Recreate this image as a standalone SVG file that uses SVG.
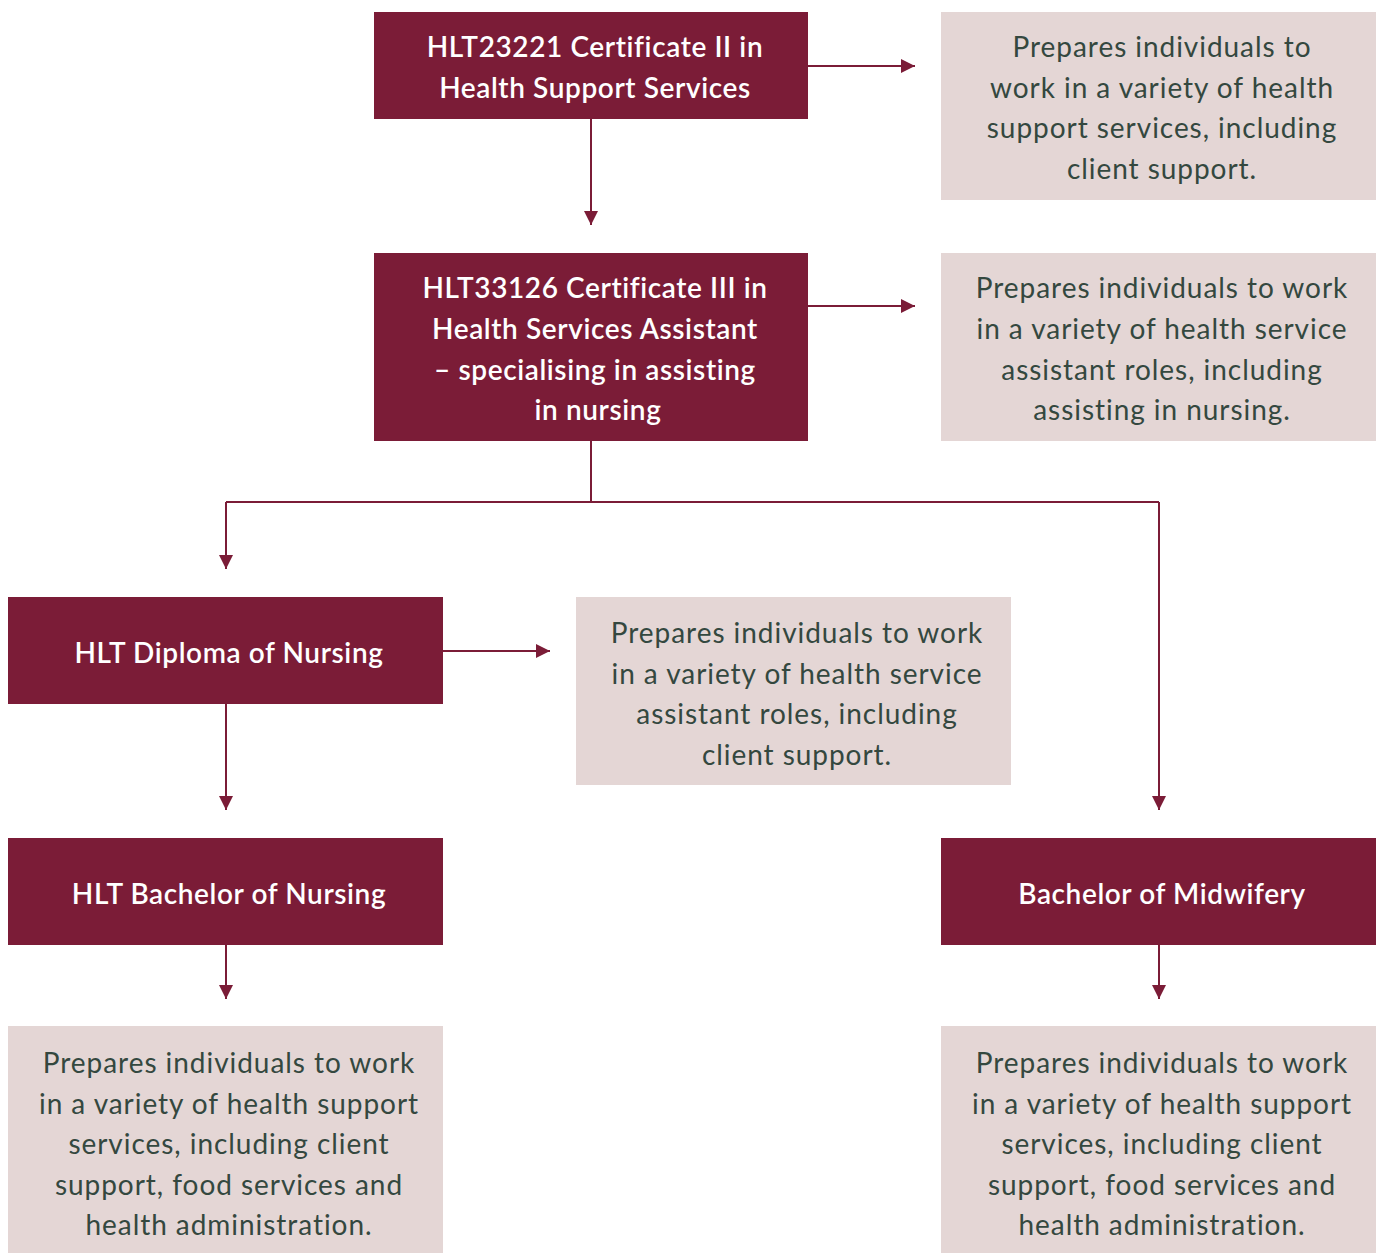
<svg xmlns="http://www.w3.org/2000/svg" width="1382" height="1253" viewBox="0 0 1382 1253">
<defs>
<style>
.dark{fill:#7B1C37;}
.light{fill:#E4D6D5;}
.dt{font-family:Lato,"Open Sans","Liberation Sans",sans-serif;font-size:28px;font-weight:600;fill:#FFFFFF;text-anchor:middle;letter-spacing:0.6px;}
.lt{font-family:Lato,"Open Sans","Liberation Sans",sans-serif;font-size:28px;font-weight:400;fill:#34483F;text-anchor:middle;letter-spacing:0.95px;}
.conn{stroke:#7B1C37;stroke-width:2;fill:none;}
</style>
<marker id="ah" viewBox="0 0 14 14" refX="14" refY="7" markerWidth="14" markerHeight="14" markerUnits="userSpaceOnUse" orient="auto">
<path d="M0,0 L14,7 L0,14 Z" fill="#7B1C37"/>
</marker>
</defs>
<rect width="1382" height="1253" fill="#FFFFFF"/>
<g id="connectors">
<path class="conn" d="M808,66 H915" marker-end="url(#ah)"/>
<path class="conn" d="M591,119 V225" marker-end="url(#ah)"/>
<path class="conn" d="M808,306 H915" marker-end="url(#ah)"/>
<path class="conn" d="M591,441 V502 M226,502 H1159"/>
<path class="conn" d="M226,502 V569" marker-end="url(#ah)"/>
<path class="conn" d="M1159,502 V810" marker-end="url(#ah)"/>
<path class="conn" d="M443,651 H550" marker-end="url(#ah)"/>
<path class="conn" d="M226,704 V810" marker-end="url(#ah)"/>
<path class="conn" d="M226,945 V999" marker-end="url(#ah)"/>
<path class="conn" d="M1159,945 V999" marker-end="url(#ah)"/>
</g>
<g id="cert2">
<rect class="dark" x="374" y="12" width="434" height="107"/>
<text class="dt"><tspan x="595" y="57">HLT23221 Certificate II in</tspan><tspan x="595" y="98">Health Support Services</tspan></text>
</g>
<g id="cert2-desc">
<rect class="light" x="941" y="12" width="435" height="188"/>
<text class="lt"><tspan x="1162" y="57">Prepares individuals to</tspan><tspan x="1162" y="98">work in a variety of health</tspan><tspan x="1162" y="138">support services, including</tspan><tspan x="1162" y="179">client support.</tspan></text>
</g>
<g id="cert3">
<rect class="dark" x="374" y="253" width="434" height="188"/>
<text class="dt"><tspan x="595" y="298">HLT33126 Certificate III in</tspan><tspan x="595" y="339">Health Services Assistant</tspan><tspan x="595" y="380">– specialising in assisting</tspan><tspan x="598" y="420">in nursing</tspan></text>
</g>
<g id="cert3-desc">
<rect class="light" x="941" y="253" width="435" height="188"/>
<text class="lt"><tspan x="1162" y="298">Prepares individuals to work</tspan><tspan x="1162" y="339">in a variety of health service</tspan><tspan x="1162" y="380">assistant roles, including</tspan><tspan x="1162" y="420">assisting in nursing.</tspan></text>
</g>
<g id="diploma">
<rect class="dark" x="8" y="597" width="435" height="107"/>
<text class="dt" x="229" y="663">HLT Diploma of Nursing</text>
</g>
<g id="diploma-desc">
<rect class="light" x="576" y="597" width="435" height="188"/>
<text class="lt"><tspan x="797" y="643">Prepares individuals to work</tspan><tspan x="797" y="684">in a variety of health service</tspan><tspan x="797" y="724">assistant roles, including</tspan><tspan x="797" y="765">client support.</tspan></text>
</g>
<g id="bachelor-nursing">
<rect class="dark" x="8" y="838" width="435" height="107"/>
<text class="dt" x="229" y="904">HLT Bachelor of Nursing</text>
</g>
<g id="bachelor-midwifery">
<rect class="dark" x="941" y="838" width="435" height="107"/>
<text class="dt" x="1162" y="904">Bachelor of Midwifery</text>
</g>
<g id="nursing-desc">
<rect class="light" x="8" y="1026" width="435" height="227"/>
<text class="lt"><tspan x="229" y="1073">Prepares individuals to work</tspan><tspan x="229" y="1114">in a variety of health support</tspan><tspan x="229" y="1154">services, including client</tspan><tspan x="229" y="1195">support, food services and</tspan><tspan x="229" y="1235">health administration.</tspan></text>
</g>
<g id="midwifery-desc">
<rect class="light" x="941" y="1026" width="435" height="227"/>
<text class="lt"><tspan x="1162" y="1073">Prepares individuals to work</tspan><tspan x="1162" y="1114">in a variety of health support</tspan><tspan x="1162" y="1154">services, including client</tspan><tspan x="1162" y="1195">support, food services and</tspan><tspan x="1162" y="1235">health administration.</tspan></text>
</g>
</svg>
